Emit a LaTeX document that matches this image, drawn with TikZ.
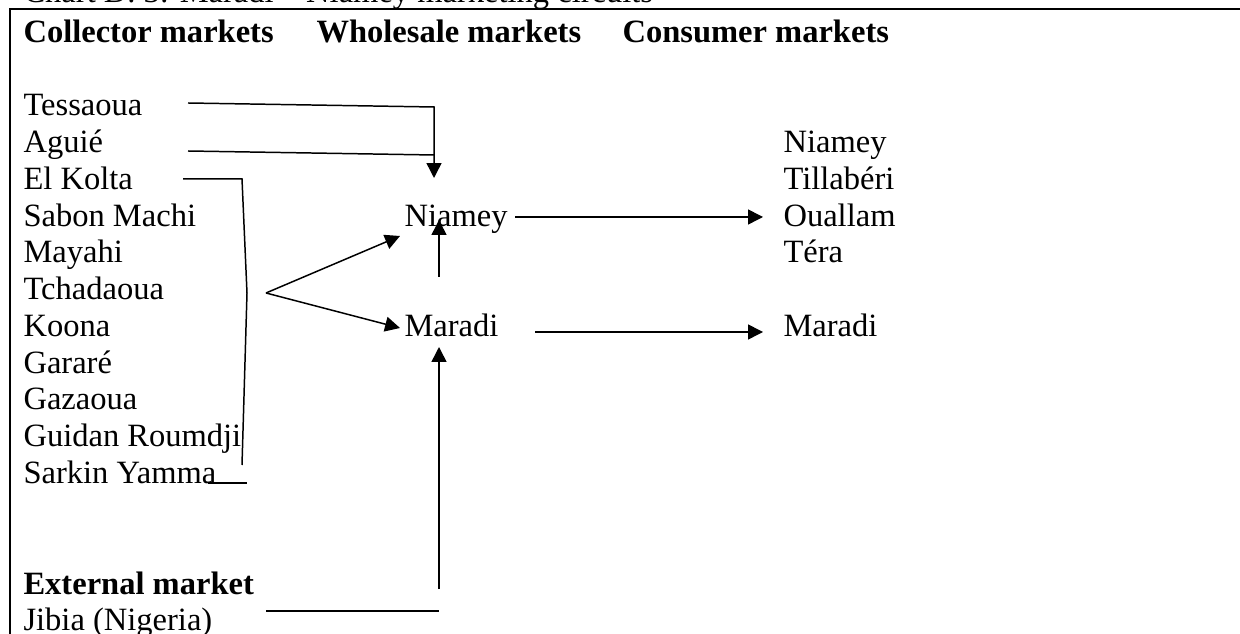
\documentclass[tikz,border=0pt]{standalone}
\usepackage{fontspec}
\setmainfont{Liberation Serif}
\usetikzlibrary{arrows.meta,positioning}
\tikzset{
  mk/.style={anchor=base west, inner sep=0pt, font=\fontsize{12}{14}\selectfont},
  hd/.style={mk, font=\fontsize{12}{14}\selectfont\bfseries},
  lnk/.style={line width=0.55pt},
  arr/.style={lnk, -{Triangle[length=5.5pt, width=5.5pt]}},
}
\begin{document}
\begin{tikzpicture}[x=0.369pt, y=-0.369pt]
  \useasboundingbox (0,0) rectangle (1240,634);
  \clip (0,0) rectangle (1240,634);

  %% --- title and frame ---
  \node[mk] (title) at (23,3) {Chart D. 3: Maradi -- Niamey marketing circuits};
  \draw[line width=0.9pt] (10,700) -- (10,9) -- (1300,9);

  %% --- column heads ---
  \node[hd] (hcol) at (23,43) {Collector markets};
  \node[hd] (hwhs) at (316,43) {Wholesale markets};
  \node[hd] (hcon) at (622,43) {Consumer markets};

  %% --- collector markets ---
  \foreach \nm [count=\k from 0] in {Tessaoua,Aguié,El Kolta,Sabon Machi,Mayahi,
      Tchadaoua,Koona,Gararé,Gazaoua,Guidan Roumdji,Sarkin Yamma}
    \node[mk] (c\k) at (23,{116+36.75*\k}) {\nm};

  %% --- external market ---
  \node[hd] (hext) at (23,594) {External market};
  \node[mk] (jibia) at (23,630) {Jibia (Nigeria)};

  %% --- wholesale markets ---
  \node[mk] (wnia) at (404,227) {Niamey};
  \node[mk] (wmar) at (404,337) {Maradi};

  %% --- consumer markets ---
  \foreach \nm [count=\k from 1] in {Niamey,Tillabéri,Ouallam,Téra}
    \node[mk] (n\k) at (783,{116+36.75*\k}) {\nm};
  \node[mk] (cmar) at (783,337) {Maradi};

  %% --- Tessaoua, Aguié -> Niamey
  \coordinate (tes) at (188,103);
  \coordinate (agu) at (188,151);
  \coordinate (tesk) at (434,107);
  \coordinate (aguk) at (434,155);
  \coordinate (niaTop) at (434,178);
  \draw[lnk] (agu) -- (aguk);
  \draw[arr] (tes) -- (tesk) -- (niaTop);

  %% --- bracket of the other collectors
  \coordinate (brA) at (183,179);
  \coordinate (brB) at (242,179);
  \coordinate (brM) at (247,293);
  \coordinate (brC) at (242,465);
  \coordinate (brD) at (208,483);
  \coordinate (brE) at (247,483);
  \draw[lnk] (brA) -- (brB) -- (brM) -- (brC);
  \draw[lnk] (brD) -- (brE);

  % fork to both wholesale markets
  \coordinate (fork) at (266,293);
  \coordinate (niaL) at (400,236);
  \coordinate (marL) at (400,328);
  \draw[arr] (fork) -- (niaL);
  \draw[arr] (fork) -- (marL);

  %% --- Maradi -> Niamey
  \coordinate (marUp) at (439,277);
  \coordinate (niaBot) at (439,220);
  \draw[arr] (marUp) -- (niaBot);

  %% --- to consumer markets
  \coordinate (niaR) at (515,217);
  \coordinate (n3L) at (763,217);
  \coordinate (marR) at (535,332);
  \coordinate (cmarL) at (763,332);
  \draw[arr] (niaR) -- (n3L);
  \draw[arr] (marR) -- (cmarL);

  %% --- Jibia -> Maradi
  \coordinate (jibR) at (266,611);
  \coordinate (jibK) at (439,611);
  \coordinate (extUp) at (439,589);
  \coordinate (marBot) at (439,347);
  \draw[lnk] (jibR) -- (jibK);
  \draw[arr] (extUp) -- (marBot);
\end{tikzpicture}
\end{document}
